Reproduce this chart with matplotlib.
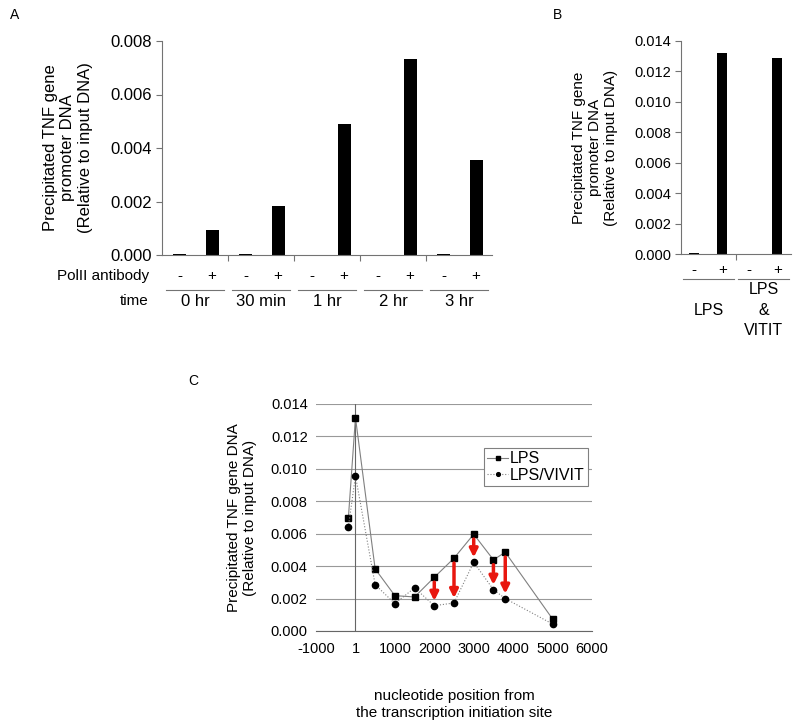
import matplotlib
matplotlib.use('Agg')
import matplotlib.pyplot as plt
import numpy as np

plt.rcParams['font.family'] = ['Liberation Sans', 'DejaVu Sans']

# panel A data
times = ['0 hr', '30 min', '1 hr', '2 hr', '3 hr']
a_minus = [0.00003, 0.00005, 0.0, 0.0, 0.00004]
a_plus = [0.00095, 0.00182, 0.0049, 0.00733, 0.00355]

# panel B data
treat = ['LPS', 'LPS\n&\nVITIT']
b_minus = [0.00005, 0.00003]
b_plus = [0.0132, 0.0129]

# panel C data
pos = [-180, 1, 500, 1000, 1500, 2000, 2500, 3000, 3500, 3800, 5000]
lps = [0.00694, 0.01316, 0.00383, 0.00218, 0.0021, 0.00331, 0.00449, 0.00597, 0.00439, 0.00486, 0.00074]
vivit = [0.0064, 0.00957, 0.00286, 0.00169, 0.00266, 0.00156, 0.00173, 0.00424, 0.00255, 0.002, 0.00043]
arrow_pos = [2000, 2500, 3000, 3500, 3800]

W, H = 800, 722
fig = plt.figure(figsize=(8, 7.22), dpi=100)

def box(l, t, r, b):
    return [l / W, 1 - b / H, (r - l) / W, (b - t) / H]

axis_col = '0.45'

def bar_panel(ax, minus, plus, labels, ymax, step, off_m, off_p, width):
    n = len(minus)
    x = np.arange(n)
    ax.bar(x + off_m, minus, width, color='black')
    ax.bar(x + off_p, plus, width, color='black')
    ax.set_xlim(0, n)
    ax.set_ylim(0, ymax)
    ax.set_yticks(np.arange(0, ymax + step / 2, step))
    ax.set_yticklabels(['%.3f' % v for v in np.arange(0, ymax + step / 2, step)])
    ax.set_xticks(np.arange(1, n))
    ax.set_xticklabels([])
    for s in ['top', 'right']:
        ax.spines[s].set_visible(False)
    for s in ['left', 'bottom']:
        ax.spines[s].set_color(axis_col)
    ax.tick_params(axis='x', length=4, color=axis_col)
    ax.tick_params(axis='y', length=4, color=axis_col, pad=3)
    return x

# ---- panel A ----
axA = fig.add_axes(box(162, 41, 492, 255))
x = bar_panel(axA, a_minus, a_plus, times, 0.008, 0.002, 0.27, 0.76, 0.2)
axA.tick_params(axis='y', labelsize=12)
axA.set_ylabel('Precipitated TNF gene\npromoter DNA\n(Relative to input DNA)', fontsize=12)
axA.yaxis.set_label_coords(-0.21, 0.5)
tr = axA.get_xaxis_transform()
for i in x:
    axA.text(i + 0.27, -0.098, '-', transform=tr, ha='center', va='center', fontsize=11)
    axA.text(i + 0.76, -0.098, '+', transform=tr, ha='center', va='center', fontsize=11)
    axA.plot([i + 0.06, i + 0.94], [-0.164, -0.164], transform=tr, color=axis_col, lw=0.8, clip_on=False)
    axA.text(i + 0.5, -0.215, times[i], transform=tr, ha='center', va='center', fontsize=12)
axA.text(-0.04, -0.098, 'PolII antibody', transform=axA.transAxes, ha='right', va='center', fontsize=11)
axA.text(-0.04, -0.215, 'time', transform=axA.transAxes, ha='right', va='center', fontsize=11)
fig.text(10 / W, 1 - 15 / H, 'A', fontsize=10, ha='left', va='center')

# ---- panel B ----
axB = fig.add_axes(box(681, 41, 791, 254))
x = bar_panel(axB, b_minus, b_plus, treat, 0.014, 0.002, 0.24, 0.75, 0.19)
axB.tick_params(axis='y', labelsize=10.5)
axB.set_ylabel('Precipitated TNF gene\npromoter DNA\n(Relative to input DNA)', fontsize=11)
axB.yaxis.set_label_coords(-0.57, 0.5)
tr = axB.get_xaxis_transform()
for i in x:
    axB.text(i + 0.24, -0.075, '-', transform=tr, ha='center', va='center', fontsize=11)
    axB.text(i + 0.75, -0.075, '+', transform=tr, ha='center', va='center', fontsize=11)
    axB.plot([i + 0.04, i + 0.96], [-0.117, -0.117], transform=tr, color=axis_col, lw=0.8, clip_on=False)
    axB.text(i + 0.5, -0.263, treat[i], transform=tr, ha='center', va='center', fontsize=11.5,
             linespacing=1.45)
fig.text(553 / W, 1 - 15 / H, 'B', fontsize=10, ha='left', va='center')

# ---- panel C ----
axC = fig.add_axes(box(316, 404, 592, 631))
axC.set_xlim(-1000, 6000)
axC.set_ylim(0, 0.014)
yt = np.arange(0, 0.0141, 0.002)
axC.set_yticks(yt)
axC.set_yticklabels(['%.3f' % v for v in yt])
axC.set_xticks([-1000, 1, 1000, 2000, 3000, 4000, 5000, 6000])
axC.set_xticklabels(['-1000', '1', '1000', '2000', '3000', '4000', '5000', '6000'])
axC.grid(axis='y', color='0.6', lw=0.8)
axC.set_axisbelow(True)
for s in ['top', 'right', 'left']:
    axC.spines[s].set_visible(False)
axC.spines['bottom'].set_color('0.4')
axC.axvline(1, color='0.4', lw=0.8, zorder=1)
axC.tick_params(axis='y', length=0, labelsize=10.5, pad=6)
axC.tick_params(axis='x', length=0, labelsize=10.5, pad=8)

axC.plot(pos, lps, color='0.5', lw=0.8, marker='s', ms=4.8, mfc='black', mec='black', label='LPS', zorder=3)
axC.plot(pos, vivit, color='0.5', lw=0.8, ls=':', marker='o', ms=4.5, mfc='black', mec='black',
         label='LPS/VIVIT', zorder=3)
for p in arrow_pos:
    i = pos.index(p)
    axC.annotate('', xy=(p, vivit[i] + 0.0003), xytext=(p, lps[i] - 0.0003),
                 arrowprops=dict(arrowstyle='-|>', color='#e8170f', lw=2.5, mutation_scale=12,
                                 shrinkA=0, shrinkB=0), zorder=4)

leg = axC.legend(loc='upper left', bbox_to_anchor=(0.609, 0.806), borderaxespad=0, fancybox=False,
                 edgecolor='0.5', framealpha=1, fontsize=11.5, handlelength=1.3, handletextpad=0.1,
                 markerscale=0.6, borderpad=0.2, labelspacing=0.1)
leg.get_frame().set_linewidth(0.8)

axC.set_ylabel('Precipitated TNF gene DNA\n(Relative to input DNA)', fontsize=11)
axC.yaxis.set_label_coords(-0.214, 0.5)
axC.set_xlabel('nucleotide position from\nthe transcription initiation site', fontsize=11, labelpad=24)
fig.text(188 / W, 1 - 381 / H, 'C', fontsize=10, ha='left', va='center')

fig.savefig('out.png', dpi=100)
